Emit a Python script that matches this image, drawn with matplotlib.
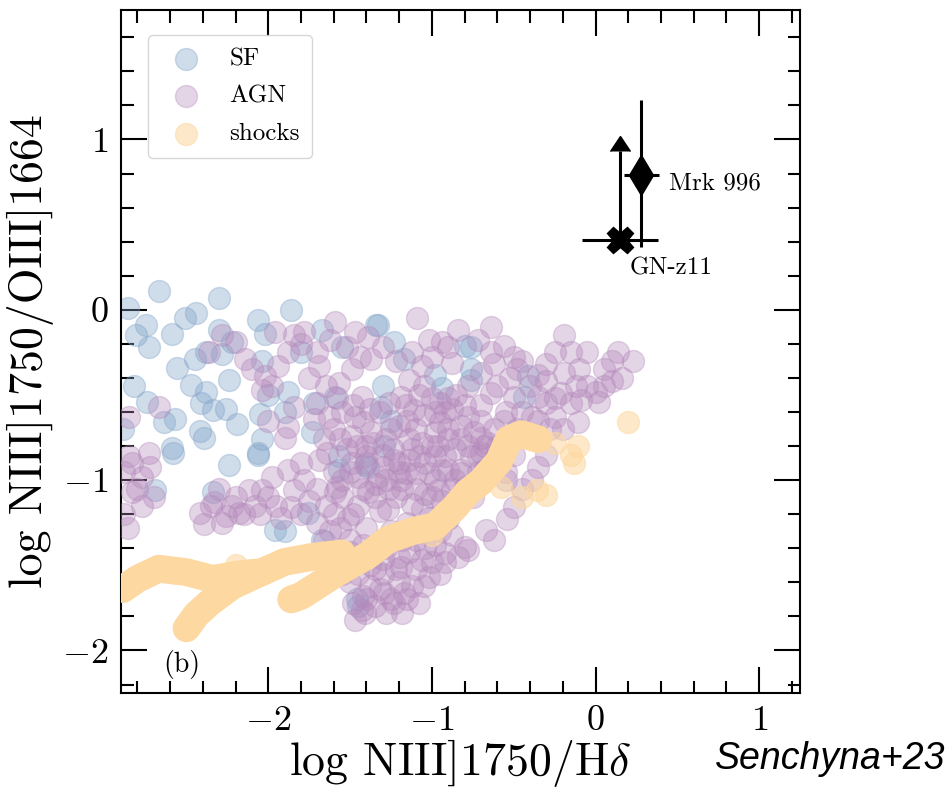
import matplotlib
matplotlib.use("Agg")
import matplotlib.pyplot as plt
import numpy as np

plt.rcParams['font.family'] = 'serif'
plt.rcParams['font.serif'] = ['cmr10', 'DejaVu Serif']
plt.rcParams['mathtext.fontset'] = 'cm'
plt.rcParams['axes.formatter.use_mathtext'] = True

# ---------------- data ----------------
sf_x = [-2.67, -2.30, -1.86, -2.86, -2.75, -2.51, -2.44, -2.59, -2.81, -2.73, -2.30, -2.22, -2.38,
        -2.06, -2.02, -2.45, -2.56, -2.28, -2.04, -2.47, -2.38, -2.24, -2.82, -2.74, -2.41, -2.26,
        -2.34, -2.64, -2.57, -2.19, -2.42, -2.39, -2.05, -2.00, -1.90, -2.04, -2.59, -2.06, -2.89,
        -1.88, -2.58, -2.24, -2.06, -2.69, -1.96, -2.34, -1.90, -1.67, -1.33, -1.23, -0.80, -0.76,
        -0.98, -1.17, -1.55, -1.80, -1.72, -1.59, -1.30, -1.31, -1.25, -0.94, -1.73, -1.29, -1.57,
        -1.41, -0.76, -0.41, -0.44, -0.76, -1.67, -1.45, -1.76, -1.57, -1.39, -1.46, -1.34]
sf_y = [0.11, 0.07, 0.00, 0.01, -0.09, -0.05, -0.02, -0.14, -0.15, -0.22, -0.12, -0.19, -0.25,
        -0.06, -0.14, -0.29, -0.34, -0.26, -0.30, -0.44, -0.48, -0.41, -0.45, -0.54, -0.55, -0.58,
        -0.59, -0.66, -0.64, -0.67, -0.71, -0.75, -0.61, -0.50, -0.60, -0.76, -0.81, -0.84, -0.70,
        -0.48, -0.84, -0.91, -0.85, -1.06, -1.29, -1.07, -1.30, -0.12, -0.09, -0.19, -0.21, -0.35,
        -0.38, -0.29, -0.22, -0.25, -0.55, -0.51, -0.45, -0.57, -0.65, -0.46, -0.72, -0.80, -0.86,
        -0.91, -0.22, -0.39, -0.51, -0.41, -1.35, -1.74, -1.19, -0.94, -0.92, -1.70, -0.09]

agn_x = [-2.83, -2.77, -2.83, -2.77, -2.86, -2.42, -2.39, -2.33, -2.20, -2.12, -2.04, -2.08, -2.18,
         -1.88, -1.86, -1.92, -1.84, -2.26, -1.98,
         -2.28, -2.20, -2.36, -2.14, -2.10, -2.02, -1.98, -1.94, -1.96, -1.84, -1.88, -2.04, -2.00,
         -1.88, -2.67, -2.85, -2.73, -2.85, -1.84, -1.90,
         -1.59, -1.09, -1.47, -1.39, -1.02, -0.94, -1.78, -1.69, -1.49, -1.37, -1.14, -1.06, -0.88,
         -0.78, -1.57, -1.43, -1.19, -1.63, -1.47, -1.11, -0.92, -0.78, -1.66, -1.49, -1.37, -1.14,
         -0.98, -0.82, -1.69, -1.49, -1.23, -1.08, -0.92, -0.76, -1.33, -1.02, -0.82,
         -0.64, -0.19, 0.14, 0.23, -0.56, -0.50, -0.64, -0.25, -0.15, 0.05, 0.16, -0.35, -0.19,
         -0.05, 0.05, -0.70, -0.64, -0.50, -0.35, -0.21, -0.09, 0.02, -0.25, -0.11, -0.39, -0.56,
         -0.70, -0.68, -0.35, -0.39, -0.68,
         -1.59, -1.39, -1.19, -0.98, -0.82, -1.51, -1.27, -1.06, -0.90, -1.35, -1.19, -1.06, -0.92,
         -0.80, -1.29, -1.12, -1.41, -1.23, -1.02, -0.84,
         -0.67, -0.54, -0.78, -0.50, -1.47, -1.43, -1.17,
         -1.30, -1.20, -1.10, -1.00, -0.90, -1.25, -1.15, -0.95, -0.85, -1.05, -1.35, -1.45, -1.55,
         -1.15, -0.95, -1.00, -0.88, -0.75, -0.70, -0.60, -0.55, -1.40, -1.60, -1.70, -1.50, -1.35,
         -1.25, -1.30, -1.55, -1.45, -1.20, -1.10, -0.98, -1.40, -1.28, -0.72, -0.62,
         # upper band
         -1.80, -1.70, -1.62, -1.52, -1.44, -1.30, -1.22, -1.12, -1.00, -0.90, -0.84, -0.72, -0.62,
         -0.45, -0.40, -0.30, -0.10, 0.10, -0.05, -0.52,
         # middle core
         -1.70, -1.60, -1.55, -1.42, -1.32, -1.28, -1.20, -1.10, -1.05, -1.00, -0.95, -0.88, -0.82,
         -0.74, -0.66, -0.86, -0.96, -1.04, -1.12, -1.20, -1.30, -1.40, -1.52, -1.60, -1.45, -1.16,
         -0.94, -0.86, -0.72, -0.62,
         # lower core
         -1.75, -1.65, -1.55, -1.48, -1.40, -1.32, -1.22, -1.12, -1.02, -0.94, -0.84, -1.08, -1.18,
         -1.28, -1.42, -1.62, -1.70, -1.80, -0.98, -0.88,
         # bottom cluster
         -1.50, -1.42, -1.35, -1.28, -1.20, -1.10, -1.00, -1.15, -1.38, -1.05, -0.95, -1.45,
         # left cluster and left edge
         -2.30, -2.22, -2.15, -2.00, -1.95, -2.05, -2.35, -2.28, -2.88, -2.80, -2.72, -2.88, -2.70,
         # right part
         -0.45, -0.30, -0.15, 0.00, 0.10, -0.40, -0.28, -0.50, -0.30, -0.20, -0.55, -0.45,
         # dense core, second pass
         -1.65, -1.58, -1.48, -1.38, -1.26, -1.16, -1.08, -0.98, -0.90, -0.80, -0.70,
         -1.64, -1.56, -1.46, -1.36, -1.24, -1.14, -1.06, -0.98, -0.90, -0.78, -0.70,
         -1.58, -1.50, -1.42, -1.34, -1.26, -1.18, -1.10, -1.04, -0.96, -0.90, -0.80,
         -1.66, -1.56, -1.50, -1.38, -1.30, -1.22, -1.14, -1.04, -0.92,
         -1.40, -1.32, -1.25, -1.18, -1.08, -1.48,
         -0.62, -0.55, -0.48, -0.35, -0.25, -0.12, -0.60, -0.48, -0.30,
         -1.75, -1.72, -1.80, -1.78]
agn_y = [-0.90, -0.98, -1.07, -1.15, -1.28, -1.19, -1.26, -1.13, -1.10, -1.06, -1.06, -1.15, -1.19,
         -0.94, -1.16, -1.22, -1.06, -1.21, -0.98,
         -0.15, -0.19, -0.25, -0.29, -0.35, -0.39, -0.45, -0.33, -0.13, -0.15, -0.25, -0.47, -0.65,
         -0.69, -0.57, -0.63, -0.84, -0.86, -0.57, -0.75,
         -0.07, -0.05, -0.13, -0.16, -0.18, -0.19, -0.13, -0.33, -0.35, -0.29, -0.41, -0.33, -0.31,
         -0.45, -0.43, -0.51, -0.51, -0.63, -0.63, -0.59, -0.60, -0.63, -0.76, -0.74, -0.72, -0.76,
         -0.72, -0.76, -0.88, -0.90, -0.88, -0.86, -0.86, -0.86, -0.98, -0.96, -0.94,
         -0.10, -0.15, -0.25, -0.30, -0.21, -0.28, -0.25, -0.25, -0.25, -0.35, -0.40, -0.38, -0.37,
         -0.45, -0.45, -0.37, -0.49, -0.51, -0.51, -0.49, -0.53, -0.54, -0.63, -0.66, -0.63, -0.65,
         -0.65, -0.80, -0.92, -1.00, -0.94,
         -1.07, -1.07, -1.00, -1.00, -0.96, -1.23, -1.17, -1.17, -1.23, -1.52, -1.51, -1.47, -1.43,
         -1.39, -1.66, -1.62, -1.78, -1.72, -1.57, -1.45,
         -1.29, -1.23, -1.41, -1.16, -1.82, -1.76, -1.66,
         -0.85, -0.95, -1.05, -0.80, -0.70, -0.70, -0.65, -0.55, -0.50, -0.45, -1.10, -1.15, -1.00,
         -1.25, -1.30, -1.10, -1.05, -1.10, -0.75, -0.80, -0.95, -0.80, -1.20, -1.05, -1.35, -1.40,
         -1.30, -1.55, -1.55, -1.45, -1.45, -1.35, -1.25, -0.90, -1.00, -0.85, -1.35,
         # upper band
         -0.20, -0.25, -0.18, -0.22, -0.28, -0.22, -0.30, -0.25, -0.28, -0.22, -0.12, -0.18, -0.32,
         -0.30, -0.45, -0.32, -0.35, -0.30, -0.25, -0.40,
         # middle core
         -0.55, -0.70, -0.60, -0.66, -0.60, -0.76, -0.68, -0.70, -0.62, -0.52, -0.66, -0.58, -0.68,
         -0.72, -0.78, -0.82, -0.80, -0.90, -0.82, -0.90, -0.92, -0.86, -0.82, -0.95, -0.98, -0.96,
         -0.94, -1.00, -0.95, -0.88,
         # lower core
         -1.12, -1.15, -1.10, -1.20, -1.28, -1.18, -1.10, -1.14, -1.22, -1.12, -1.12, -1.30, -1.35,
         -1.40, -1.38, -1.30, -1.25, -1.20, -1.38, -1.32,
         # bottom cluster
         -1.60, -1.68, -1.74, -1.78, -1.60, -1.52, -1.48, -1.70, -1.62, -1.62, -1.55, -1.55,
         # left cluster and left edge
         -1.05, -1.15, -1.20, -1.10, -1.15, -1.20, -1.15, -1.25, -0.95, -1.05, -0.92, -1.20, -1.10,
         # right part
         -0.60, -0.55, -0.55, -0.48, -0.42, -0.75, -0.70, -0.85, -0.85, -0.70, -1.00, -1.05,
         # dense core, second pass
         -0.45, -0.52, -0.56, -0.58, -0.55, -0.56, -0.50, -0.60, -0.52, -0.56, -0.56,
         -0.84, -0.76, -0.80, -0.78, -0.82, -0.88, -0.78, -0.86, -0.76, -0.80, -0.84,
         -1.04, -0.95, -1.05, -1.02, -1.05, -1.05, -0.96, -1.08, -1.06, -0.94, -1.04,
         -1.36, -1.28, -1.42, -1.50, -1.46, -1.52, -1.42, -1.40, -1.48,
         -1.70, -1.64, -1.70, -1.78, -1.72, -1.72,
         -0.70, -0.60, -0.70, -0.65, -0.52, -0.45, -0.45, -0.35, -0.42,
         -0.40, -0.64, -0.90, -1.00]

# shock model tracks (three sequences) and scattered shock models
shockA_x = [-2.89, -2.80, -2.67, -2.50, -2.34, -2.16, -2.04]
shockA_y = [-1.64, -1.58, -1.52, -1.54, -1.58, -1.55, -1.54]
shockB_x = [-2.50, -2.44, -2.36, -2.22, -2.04, -1.90, -1.73, -1.55]
shockB_y = [-1.87, -1.79, -1.72, -1.62, -1.54, -1.48, -1.45, -1.43]
shockC_x = [-1.86, -1.80, -1.59, -1.39, -1.27, -1.12, -0.98, -0.86, -0.78, -0.70, -0.59, -0.53,
            -0.45, -0.35]
shockC_y = [-1.70, -1.68, -1.55, -1.44, -1.35, -1.30, -1.27, -1.16, -1.07, -1.01, -0.89, -0.76,
            -0.73, -0.76]
shock_pts_x = [-0.25, -0.11, -0.13, -0.30, -0.36, -0.58, 0.20, -2.20, -0.15, -0.45, -1.00]
shock_pts_y = [-0.78, -0.80, -0.90, -1.09, -1.06, -1.04, -0.66, -1.50, -0.85, -1.10, -1.32]

# observed objects
gn_x, gn_y, gn_xerr, gn_ylim = 0.15, 0.41, 0.23, 0.52
mrk_x, mrk_y, mrk_xerr = 0.28, 0.79, 0.105
mrk_yerr_lo, mrk_yerr_hi = 0.42, 0.44

# ---------------- figure ----------------
fig = plt.figure(figsize=(9.53, 7.93), dpi=100)
ax = fig.add_axes([0.127, 0.126, 0.7125, 0.8614])

c_sf = '#82a5ca'
c_agn = '#b489bb'
c_sh = '#fdd8a0'
S = 250

ax.scatter(sf_x, sf_y, s=S, color=c_sf, alpha=0.38, edgecolors=c_sf, linewidths=1.0,
           zorder=2, label='SF')
ax.scatter(agn_x, agn_y, s=S, color=c_agn, alpha=0.36, edgecolors=c_agn, linewidths=1.0,
           zorder=3, label='AGN')
for tx, ty in [(shockA_x, shockA_y), (shockB_x, shockB_y), (shockC_x, shockC_y)]:
    ax.plot(tx, ty, color=c_sh, lw=20, solid_capstyle='round', solid_joinstyle='round',
            zorder=4)
ax.scatter(shock_pts_x, shock_pts_y, s=S, color=c_sh, alpha=0.55, edgecolors=c_sh,
           linewidths=1.0, zorder=4, label='shocks')

# GN-z11
ax.errorbar(gn_x, gn_y, xerr=gn_xerr, fmt='none', ecolor='black', elinewidth=2.2, capsize=0,
            zorder=6)
ax.errorbar(gn_x, gn_y, yerr=gn_ylim, lolims=True, fmt='none', ecolor='black', color='black',
            elinewidth=2.2, capsize=7, zorder=6)
ax.plot(gn_x, gn_y, marker='X', ms=19, color='black', ls='none', zorder=7)
# Mrk 996
ax.errorbar(mrk_x, mrk_y, xerr=mrk_xerr, yerr=[[mrk_yerr_lo], [mrk_yerr_hi]], fmt='d',
            ms=20, color='black', ecolor='black', elinewidth=2.2, capsize=0, zorder=7)

ax.text(mrk_x + 0.17, mrk_y - 0.05, 'Mrk 996', fontsize=18, va='center', ha='left')
ax.text(gn_x + 0.06, gn_y - 0.17, 'GN-z11', fontsize=18, va='center', ha='left')
ax.text(-2.64, -2.08, '(b)', fontsize=20, va='center', ha='left')

ax.set_xlim(-2.9, 1.25)
ax.set_ylim(-2.25, 1.76)
ax.set_xticks([-2, -1, 0, 1])
ax.set_yticks([-2, -1, 0, 1])
ax.set_xticks(np.arange(-2.8, 1.25, 0.2), minor=True)
ax.set_yticks(np.arange(-2.2, 1.76, 0.2), minor=True)
ax.tick_params(which='both', direction='in', top=True, right=True, width=1.5)
ax.tick_params(which='major', length=19, labelsize=26, pad=9)
ax.tick_params(which='minor', length=9)
for sp in ax.spines.values():
    sp.set_linewidth(1.5)

ax.set_xlabel('log NIII]1750/H$\\delta$', fontsize=33, labelpad=0)
ax.set_ylabel('log NIII]1750/OIII]1664', fontsize=33, labelpad=6)

leg = ax.legend(loc='upper left', fontsize=18, frameon=True, fancybox=True,
                borderpad=0.5, labelspacing=0.6, handletextpad=0.75, borderaxespad=0,
                bbox_to_anchor=(0.04, 0.963))
leg.get_frame().set_edgecolor('#cccccc')
leg.get_frame().set_linewidth(1.0)

fig.text(0.992, 0.03, 'Senchyna+23', fontsize=27, style='italic', ha='right', va='baseline',
         family='Liberation Sans')

fig.savefig('out.png', dpi=100)
